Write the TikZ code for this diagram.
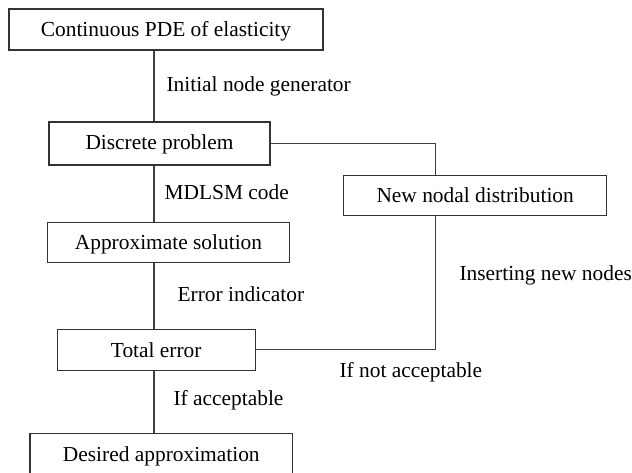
\documentclass[tikz,border=0pt]{standalone}
\usepackage{fontspec}
\setmainfont{Liberation Serif}
\begin{document}
\begin{tikzpicture}[x=1pt,y=-1pt,
  line width=1.1pt,
  every node/.style={font=\fontsize{21.4}{25}\selectfont},
  stage/.style={draw=black!80, fill=white, inner sep=0pt, line width=1.1pt,
                text height=15pt, text depth=0pt},
  lbl/.style={anchor=base west, inner sep=0pt},
  link/.style={draw=black!75, line width=1.1pt}]
  \useasboundingbox[fill=white] (0,0) rectangle (632,473);

  % stages of the procedure
  \node[stage, minimum width=314pt, minimum height=41pt] (pde) at (166,29.5) {Continuous PDE of elasticity};
  \node[stage, minimum width=221pt, minimum height=43pt, text height=11.6pt] (disc) at (159.5,143.5) {Discrete problem};
  \node[stage, minimum width=241.6pt, minimum height=40pt] (appr) at (168.5,242.3) {Approximate solution};
  \node[stage, minimum width=197.7pt, minimum height=40.7pt] (tot) at (156.2,349.7) {Total error};
  \node[stage, minimum width=262.7pt, minimum height=41pt] (des) at (161.3,453.7) {Desired approximation};
  \node[stage, minimum width=263pt, minimum height=39.7pt, text height=13.8pt] (newd) at (475.2,195.8) {New nodal distribution};

  % trunk and refinement loop positions
  \coordinate (trunk) at (154,0);
  \coordinate (loop) at (435.5,0);

  % main chain
  \draw[link] (pde.south -| trunk) -- (disc.north -| trunk);
  \draw[link] (disc.south -| trunk) -- (appr.north -| trunk);
  \draw[link] (appr.south -| trunk) -- (tot.north -| trunk);
  \draw[link] (tot.south -| trunk) -- (des.north -| trunk);

  % refinement loop
  \draw[link] (disc.east) -| (newd.north -| loop);
  \draw[link] (newd.south -| loop) |- (tot.east);

  % connector labels
  \node[lbl] (l1) at (166,91.5) {Initial node generator};
  \node[lbl] (l2) at (164,200) {MDLSM code};
  \node[lbl] (l3) at (177,301.7) {Error indicator};
  \node[lbl] (l4) at (173,405.7) {If acceptable};
  \node[lbl] (l5) at (339,377.7) {If not acceptable};
  \node[lbl] (l6) at (459,280) {Inserting new nodes};
\end{tikzpicture}
\end{document}
